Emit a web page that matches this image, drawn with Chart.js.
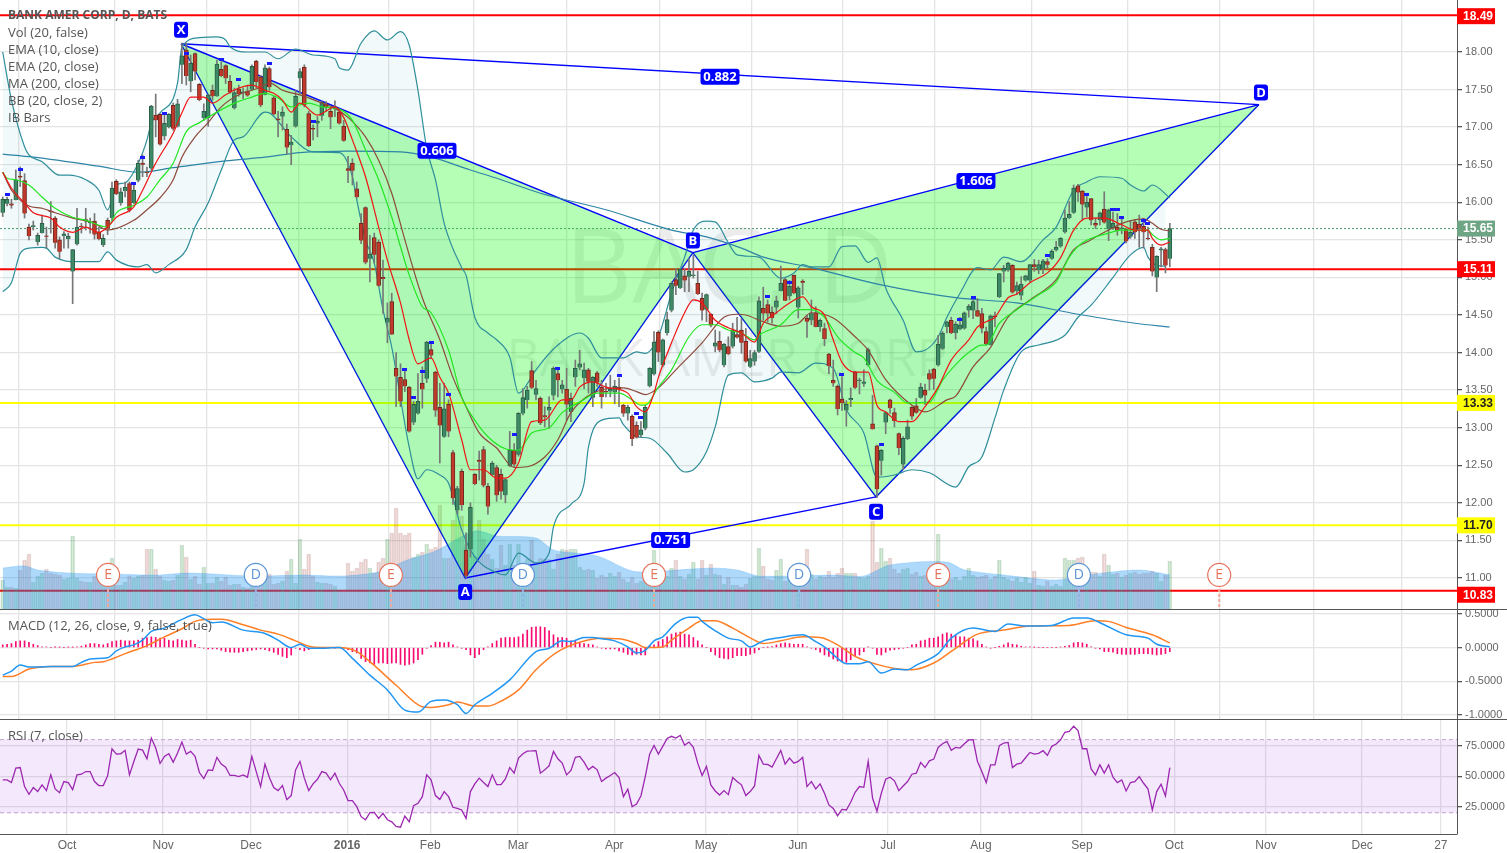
<!DOCTYPE html>
<html>
<head>
<meta charset="utf-8">
<title>BAC, D</title>
<script src="https://cdn.jsdelivr.net/npm/chart.js@4/dist/chart.umd.min.js"></script>
<style>
  html, body { margin: 0; padding: 0; background: #fff; width: 1507px; height: 853px; overflow: hidden; }
  canvas { position: absolute; left: 0; }
  .rule { position: absolute; left: 0; width: 1507px; height: 1px; background: #555; }
</style>
</head>
<body>
<canvas id="priceChart" width="1507" height="609" style="top:0"></canvas>
<canvas id="macdChart" width="1507" height="110" style="top:609px"></canvas>
<canvas id="rsiChart" width="1507" height="134" style="top:719px"></canvas>
<div class="rule" style="top:609px"></div>
<div class="rule" style="top:719px"></div>
<script>
// daily bars, one row per session
const barOpen = [15.86,15.98,15.98,16.03,16.35,16.29,15.67,15.67,15.47,15.59,
  15.55,15.88,15.79,15.50,15.55,15.51,15.08,15.44,15.68,15.77,
  15.72,15.75,15.60,15.43,15.76,15.79,16.28,15.99,16.15,16.25,
  15.99,16.29,16.52,16.40,16.45,17.16,17.17,16.88,17.00,17.29,
  17.01,17.83,18.03,17.61,17.98,17.57,17.12,17.12,17.49,17.41,
  17.77,17.82,17.61,17.25,17.51,17.45,17.48,17.50,17.88,17.67,
  17.43,17.78,17.39,17.11,17.14,16.97,16.76,17.01,17.65,17.80,
  17.18,16.98,17.05,17.15,17.31,17.21,17.24,17.20,17.01,16.45,
  16.52,16.18,15.72,15.93,15.25,15.53,15.47,15.00,14.40,14.68,
  13.79,13.67,13.64,13.54,13.07,13.19,13.59,13.65,14.04,13.74,
  13.27,12.88,13.31,12.67,11.90,12.42,11.37,11.38,12.38,12.57,
  12.71,12.22,12.37,12.47,12.38,12.10,12.49,12.70,12.64,13.19,
  13.37,13.76,13.44,13.39,13.16,13.23,13.43,13.72,13.51,13.51,
  13.21,13.67,13.80,13.66,13.77,13.40,13.73,13.54,13.48,13.48,
  13.47,13.54,13.30,13.19,13.15,13.03,12.90,12.99,13.55,13.71,
  14.27,13.83,14.26,14.56,14.97,14.86,15.02,15.01,15.02,14.92,
  14.72,14.57,14.51,14.08,14.15,13.83,14.08,14.08,14.24,14.30,
  14.15,13.81,13.88,14.01,14.59,14.64,14.54,14.60,14.82,14.97,
  14.75,15.03,14.60,14.95,14.46,14.43,14.53,14.34,14.32,13.98,
  13.63,13.55,13.38,13.23,13.37,13.74,13.62,13.59,13.83,13.05,
  12.76,12.56,13.07,13.37,13.20,12.92,12.51,12.85,13.27,13.29,
  13.40,13.50,13.72,13.78,13.83,14.05,14.34,14.43,14.26,14.31,
  14.32,14.56,14.56,14.56,14.52,14.28,14.10,14.49,14.74,15.08,
  15.10,15.16,14.82,14.76,14.96,14.96,15.17,15.10,15.11,15.21,
  15.25,15.36,15.41,15.60,15.79,15.86,16.22,16.15,15.93,16.05,
  15.72,15.76,15.91,15.64,15.65,15.67,15.64,15.64,15.54,15.74,
  15.71,15.68,15.52,15.40,15.00,15.36,15.37,15.25];
const barHigh = [16.07,16.07,16.04,16.43,16.47,16.38,15.71,15.75,15.59,15.83,
  15.67,16.01,15.81,15.54,15.61,15.59,15.37,15.92,15.72,15.92,
  15.79,15.85,15.67,15.57,15.79,16.27,16.30,16.19,16.27,16.27,
  16.23,16.56,16.63,16.47,17.29,17.44,17.18,17.18,17.18,17.32,
  17.37,18.12,18.12,17.96,17.99,17.58,17.31,17.43,17.56,17.89,
  17.87,17.83,17.69,17.52,17.56,17.52,17.56,17.83,17.89,17.69,
  17.83,17.80,17.41,17.21,17.27,17.04,16.89,17.49,17.78,17.83,
  17.21,17.03,17.14,17.34,17.34,17.27,17.35,17.23,17.09,16.61,
  16.58,16.27,15.85,15.94,15.56,15.59,15.50,15.23,14.66,14.79,
  14.00,13.85,13.77,13.55,13.35,13.72,13.81,14.15,14.15,13.75,
  13.59,13.59,13.37,12.70,12.22,12.45,11.60,12.00,12.39,12.69,
  12.75,12.26,12.55,12.50,12.45,12.32,12.95,12.79,13.20,13.52,
  13.55,13.88,13.63,13.41,13.28,13.41,13.81,13.79,13.63,13.79,
  13.46,13.90,14.03,13.86,13.79,13.68,13.75,13.63,13.59,13.70,
  13.63,13.66,13.31,13.30,13.17,13.08,13.08,13.30,13.80,14.28,
  14.29,14.18,14.54,14.94,15.12,15.12,15.12,15.25,15.30,15.08,
  14.79,14.78,14.52,14.30,14.28,14.12,14.21,14.39,14.47,14.45,
  14.32,14.03,14.03,14.74,14.87,14.70,14.61,14.75,15.15,14.99,
  14.96,15.03,14.88,14.97,14.50,14.70,14.61,14.45,14.39,13.99,
  13.90,13.57,13.68,13.36,13.53,13.75,13.66,13.77,14.06,13.43,
  12.77,12.71,13.21,13.38,13.26,12.93,12.88,13.10,13.28,13.39,
  13.59,13.58,13.77,13.79,14.23,14.28,14.42,14.47,14.41,14.47,
  14.54,14.64,14.70,14.72,14.59,14.34,14.50,14.54,15.05,15.16,
  15.20,15.17,14.94,15.01,15.03,15.17,15.24,15.23,15.24,15.25,
  15.37,15.48,15.53,15.90,16.01,16.23,16.24,16.16,16.12,16.05,
  15.79,15.87,16.14,15.91,15.87,15.85,15.79,15.65,15.76,15.77,
  15.83,15.79,15.67,15.44,15.29,15.40,15.39,15.72];
const barLow = [15.81,15.95,15.92,16.03,16.21,15.79,15.50,15.63,15.43,15.59,
  15.39,15.59,15.39,15.25,15.39,15.39,14.65,15.43,15.59,15.63,
  15.59,15.51,15.50,15.41,15.57,15.76,16.10,15.96,16.07,15.87,
  15.98,16.27,16.34,16.34,16.43,16.87,16.76,16.83,16.99,16.96,
  17.00,17.58,17.56,17.47,17.63,17.35,17.09,17.01,17.36,17.41,
  17.67,17.58,17.45,17.24,17.41,17.38,17.41,17.49,17.52,17.27,
  17.43,17.49,17.16,16.87,16.96,16.64,16.50,17.00,17.44,17.27,
  16.74,16.83,16.87,17.09,17.21,16.98,17.14,17.04,16.81,16.26,
  16.23,16.05,15.45,15.18,14.94,15.19,14.88,14.52,14.13,14.24,
  13.28,13.28,13.48,12.94,13.04,13.18,13.26,13.60,13.92,13.15,
  12.53,12.87,12.88,11.98,11.85,11.90,11.00,11.28,12.24,12.30,
  12.21,11.85,12.37,12.02,12.05,12.00,12.48,12.48,12.62,13.17,
  13.26,13.52,13.37,13.04,13.01,12.99,13.37,13.41,13.46,13.10,
  13.08,13.55,13.77,13.52,13.46,13.28,13.55,13.26,13.41,13.41,
  13.32,13.28,13.15,13.10,12.76,12.86,12.88,12.97,13.54,13.70,
  13.88,13.81,14.23,14.54,14.77,14.85,14.81,14.81,14.99,14.77,
  14.43,14.41,14.34,14.01,14.01,13.81,13.97,14.06,14.19,13.99,
  13.87,13.80,13.83,14.00,14.43,14.41,14.39,14.52,14.82,14.69,
  14.70,14.78,14.46,14.77,14.20,14.37,14.34,14.28,14.09,13.72,
  13.55,13.17,13.23,13.02,13.28,13.52,13.45,13.55,13.82,12.98,
  12.07,12.37,12.92,13.19,13.01,12.64,12.44,12.84,13.11,13.19,
  13.39,13.31,13.50,13.51,13.82,14.04,14.26,14.25,14.18,14.30,
  14.31,14.47,14.45,14.48,14.26,14.10,14.10,14.34,14.73,14.94,
  15.08,14.79,14.77,14.70,14.95,14.94,15.08,15.05,15.05,15.12,
  15.24,15.35,15.40,15.59,15.78,15.85,16.01,15.76,15.81,15.70,
  15.65,15.70,15.72,15.49,15.64,15.56,15.58,15.46,15.52,15.52,
  15.40,15.39,15.50,15.02,14.81,15.14,15.06,15.14];
const barClose = [16.04,16.04,15.96,16.30,16.33,15.85,15.55,15.69,15.56,15.72,
  15.54,15.87,15.46,15.34,15.58,15.55,15.37,15.67,15.67,15.75,
  15.74,15.57,15.51,15.52,15.65,16.19,16.11,16.14,16.20,15.89,
  16.16,16.52,16.50,16.39,17.28,17.09,16.77,17.05,17.17,16.98,
  17.31,17.95,17.68,17.85,17.74,17.36,17.21,17.43,17.41,17.84,
  17.68,17.65,17.46,17.46,17.44,17.47,17.42,17.81,17.60,17.29,
  17.79,17.53,17.17,17.09,17.20,16.73,16.80,17.41,17.74,17.29,
  16.75,16.97,17.08,17.33,17.26,17.13,17.27,17.05,16.82,16.42,
  16.42,16.07,15.49,15.20,15.31,15.30,14.89,14.98,14.46,14.24,
  13.68,13.35,13.55,12.95,13.31,13.35,13.51,14.14,13.96,13.23,
  13.03,13.25,12.95,12.06,12.19,11.97,11.03,11.94,12.25,12.55,
  12.23,11.95,12.53,12.10,12.15,12.31,12.70,12.51,13.19,13.40,
  13.50,13.53,13.52,13.06,13.14,13.27,13.79,13.63,13.57,13.31,
  13.39,13.79,13.85,13.77,13.61,13.67,13.60,13.41,13.47,13.51,
  13.55,13.51,13.19,13.27,12.85,12.87,12.97,13.27,13.79,14.14,
  14.00,14.17,14.44,14.92,14.89,15.11,14.96,15.08,15.03,14.78,
  14.56,14.77,14.36,14.13,14.03,14.11,13.98,14.30,14.20,14.13,
  13.88,13.92,14.00,14.69,14.52,14.52,14.46,14.69,14.92,14.69,
  14.88,14.79,14.86,14.93,14.41,14.52,14.34,14.43,14.18,13.82,
  13.59,13.25,13.33,13.31,13.39,13.53,13.62,13.61,14.04,12.98,
  12.18,12.70,13.20,13.26,13.09,12.73,12.86,13.01,13.15,13.20,
  13.54,13.43,13.64,13.65,14.11,14.26,14.41,14.26,14.38,14.37,
  14.53,14.62,14.68,14.48,14.32,14.11,14.49,14.47,15.05,15.12,
  15.19,14.80,14.89,14.91,15.02,15.17,15.14,15.17,15.22,15.17,
  15.35,15.40,15.52,15.79,15.84,16.19,16.13,15.97,16.00,15.76,
  15.69,15.86,15.73,15.90,15.72,15.62,15.66,15.48,15.60,15.60,
  15.65,15.60,15.51,15.08,15.28,15.38,15.16,15.65];
// volume, in height units of the lower part of the price pane
const volume = [29,22,22,21,39,49,55,27,33,36,40,36,35,34,30,31,73,31,28,27,
  27,33,32,28,46,51,24,24,27,33,31,33,34,60,60,40,33,29,28,29,
  34,64,52,30,33,25,42,26,26,32,28,32,24,25,25,22,21,23,26,30,
  31,35,25,26,28,38,50,26,70,40,55,33,27,26,26,25,23,19,17,46,
  38,41,47,50,41,36,47,51,70,76,101,76,74,76,52,55,57,65,60,62,
  104,51,51,89,101,93,65,76,53,89,70,55,50,41,64,44,65,44,65,45,
  50,69,45,51,50,50,40,55,60,59,60,60,42,39,40,39,
  31,34,32,36,33,37,30,27,32,26,28,30,38,59,30,29,33,41,49,33,
  30,35,47,30,49,34,45,35,34,25,32,24,24,22,25,31,33,61,43,30,
  29,39,50,28,33,30,27,28,60,35,30,33,32,38,32,36,41,36,36,36,
  32,31,33,88,47,61,48,51,40,36,40,41,35,37,33,34,35,30,75,33,
  31,30,32,29,33,41,34,32,33,34,30,33,49,32,30,28,31,27,32,26,
  38,24,23,28,23,25,23,51,49,49,51,52,35,37,37,33,55,44,35,36,
  32,34,36,37,35,36,36,38,36,28,34,48];
const volMaIdx = [0,5,8,15,24,35,43,57,69,78,87,92,99,108,113,122,126,136,144,151,162,168,173,190,197,203,216,220,231,241,250,260,267];
const volMaVal = [41,43,39,36,35,34,36,33,34,33,38,48,58,78,73,71,59,53,38,38,41,39,33,34,33,44,47,39,33,29,35,39,34];

const ema10Idx = [0,2,5,7,11,13,16,19,22,24,26,30,32,35,39,41,43,46,48,51,54,57,60,62,64,66,68,72,76,78,80,83,86,88,91,93,95,98,100,102,105,107,110,113,115,118,121,124,128,130,132,135,138,143,145,147,149,150,153,156,158,160,163,166,169,172,174,177,180,183,185,188,190,192,195,198,200,202,205,208,211,214,217,221,223,225,227,230,232,235,239,242,245,248,252,256,259,262,263,265,267];
const ema10Val = [16.40,16.19,15.99,15.86,15.79,15.67,15.60,15.67,15.60,15.67,15.80,15.94,16.16,16.52,16.92,17.19,17.40,17.40,17.32,17.43,17.52,17.56,17.49,17.45,17.36,17.20,17.32,17.16,17.27,17.13,16.83,16.34,15.67,15.23,14.66,14.17,13.85,13.93,13.67,13.46,12.84,12.44,12.44,12.33,12.33,12.53,13.08,13.10,13.37,13.37,13.54,13.61,13.54,13.46,13.28,13.21,13.46,13.67,14.13,14.53,14.70,14.66,14.43,14.33,14.26,14.14,14.39,14.53,14.66,14.74,14.61,14.50,14.17,13.87,13.74,13.74,13.30,13.21,13.08,13.08,13.28,13.54,13.90,14.17,14.34,14.41,14.47,14.73,14.78,14.93,15.06,15.26,15.63,15.79,15.79,15.70,15.63,15.63,15.52,15.43,15.47];
const ema20Idx = [0,1,3,6,9,12,16,19,24,26,30,33,36,39,42,45,49,53,57,60,63,66,70,73,77,80,83,86,89,93,96,98,102,105,108,111,115,118,121,125,128,132,136,141,144,146,147,150,153,157,160,163,166,169,172,173,178,182,185,188,191,195,197,200,204,207,212,215,219,221,224,225,228,232,237,241,244,247,253,256,262,263,265,267];
const ema20Val = [16.40,16.32,16.30,16.23,16.07,15.92,15.80,15.76,15.67,15.86,15.96,16.07,16.30,16.52,16.94,17.06,17.20,17.32,17.40,17.45,17.39,17.27,17.32,17.27,17.24,17.09,16.70,16.30,15.80,15.03,14.61,14.53,14.03,13.41,13.10,12.88,12.72,12.70,12.93,13.00,13.20,13.34,13.46,13.46,13.37,13.30,13.30,13.54,13.77,14.21,14.37,14.37,14.30,14.26,14.17,14.23,14.37,14.57,14.57,14.47,14.21,14.00,13.93,13.63,13.47,13.33,13.34,13.63,13.90,14.00,14.10,14.10,14.39,14.57,14.77,14.94,15.27,15.46,15.59,15.63,15.63,15.57,15.50,15.52];
const bbMidIdx = [0,2,4,6,9,12,16,21,24,30,33,36,39,41,44,47,50,54,59,61,64,68,73,76,79,83,86,89,92,96,100,103,106,109,113,117,120,124,127,130,135,142,145,147,150,154,160,165,168,170,174,178,182,185,190,195,198,202,208,211,216,218,222,226,230,235,241,245,248,253,257,261,263,265,267];
const bbMidVal = [16.40,16.16,16.03,15.95,15.92,15.86,15.79,15.72,15.63,15.76,15.90,16.06,16.30,16.60,16.87,17.06,17.27,17.43,17.53,17.59,17.49,17.43,17.32,17.25,17.13,16.87,16.56,16.12,15.50,14.73,14.17,13.67,13.28,12.93,12.73,12.47,12.48,12.61,12.84,13.20,13.46,13.53,13.48,13.44,13.53,13.77,14.13,14.47,14.51,14.50,14.41,14.35,14.39,14.53,14.46,14.21,14.03,13.64,13.30,13.21,13.37,13.42,13.81,14.07,14.47,14.70,14.97,15.37,15.47,15.63,15.74,15.78,15.72,15.64,15.62];
const bbUpIdx = [0,2,5,6,9,13,15,19,22,24,26,28,31,33,34,36,40,41,45,49,51,52,56,60,63,67,71,76,77,79,82,85,88,91,93,95,97,99,101,105,106,108,111,113,116,118,119,122,127,132,134,137,142,145,147,150,153,156,158,161,163,166,168,173,178,181,183,185,189,192,195,198,200,202,206,209,211,214,216,219,223,226,229,233,238,241,245,248,251,256,258,261,263,267];
const bbUpVal = [18.00,17.36,16.74,16.63,16.54,16.36,16.36,16.30,16.16,15.90,16.23,16.26,16.52,16.83,17.06,17.19,17.59,18.07,18.19,18.20,18.16,18.07,18.00,18.00,17.91,18.04,17.96,17.91,17.79,17.76,18.12,18.28,18.16,18.27,18.09,17.49,16.72,16.30,15.72,15.13,15.03,14.47,14.26,14.17,13.94,13.46,13.50,13.77,14.10,14.26,14.19,13.93,13.93,14.01,13.99,14.21,14.79,15.27,15.63,15.75,15.74,15.46,15.30,15.27,14.99,15.06,15.17,15.14,15.14,15.41,15.42,15.20,15.26,14.86,14.43,14.01,14.03,14.21,14.47,14.79,15.13,15.10,15.27,15.21,15.50,15.67,16.16,16.27,16.34,16.32,16.23,16.15,16.23,16.06];
const bbLowIdx = [0,2,4,6,9,10,12,17,22,24,26,31,33,35,38,42,44,47,50,53,55,60,61,66,71,77,80,81,83,85,87,89,93,95,97,100,102,105,108,113,115,118,122,125,126,130,133,134,137,141,142,145,148,152,156,158,161,163,166,169,172,176,178,182,186,190,193,197,200,204,208,212,218,221,224,227,229,233,237,243,246,249,254,258,261,262,264,266];
const bbLowVal = [14.81,14.93,15.32,15.39,15.40,15.39,15.27,15.21,15.21,15.34,15.23,15.14,15.17,15.06,15.17,15.37,15.67,15.99,16.43,16.83,16.87,17.20,17.19,16.87,16.67,16.66,16.34,16.03,15.50,15.19,14.57,14.07,12.74,12.32,12.44,12.37,12.26,11.64,11.28,11.07,11.04,11.33,11.20,11.33,11.68,11.98,12.26,12.74,13.10,13.13,13.04,12.88,12.86,12.66,12.41,12.44,12.68,13.01,13.70,13.73,13.61,13.66,13.74,13.73,13.86,13.79,13.24,12.93,12.34,12.37,12.44,12.40,12.21,12.48,12.61,13.13,13.50,14.01,14.10,14.23,14.47,14.63,15.00,15.30,15.40,15.27,15.16,15.15];
const ma200Idx = [0,7,22,31,39,51,60,68,79,91,98,107,114,123,138,153,161,169,174,185,201,218,232,246,259,267];
const ma200Val = [16.64,16.60,16.48,16.40,16.46,16.55,16.60,16.66,16.68,16.67,16.60,16.43,16.30,16.12,15.90,15.63,15.54,15.39,15.27,15.13,14.90,14.73,14.66,14.51,14.39,14.34];

// inside bar flags
const flagIdx = [1,4,30,32,37,42,50,54,61,71,92,94,96,98,102,117,127,141,145,146,175,180,192,201,219,222,239,248,254,255,256,261,262];
const flagVal = [16.11,16.44,16.25,16.60,17.18,17.98,17.90,17.63,17.85,17.08,13.78,13.40,13.75,14.14,13.44,12.91,13.79,13.70,13.19,13.14,14.75,14.93,13.71,12.77,14.44,14.73,15.29,16.11,15.91,15.90,15.80,15.76,15.72];

// harmonic pattern
const patternNames = ['X','A','B','C','D'];
const patternIdx = [40.8,105.8,157.9,199.8,287.4];
const patternVal = [18.11,11.00,15.33,12.08,17.30];
const ratioLabels = ['0.882','0.606','0.751','1.606'];

// horizontal levels and price tags
const levelVal = [18.49,15.65,15.11,13.33,11.70,10.83];
const levelText = ['18.49','15.65','15.11','13.33','11.70','10.83'];

// earnings and dividends
const eventNames = ['E','D','E','D','E','D','E','D','E'];
const eventIdx = [24.1,57.9,88.8,119,149,182.2,214,246.2,278.3];
const eventVal = 11.04;

const macdIdx = [0,2,4,6,8,11,16,18,20,24,26,28,30,32,34,37,41,44,46,48,50,55,60,63,66,68,70,72,77,80,84,88,92,95,98,101,104,106,108,112,116,122,125,128,130,133,135,137,140,143,145,147,149,151,154,157,159,160,163,166,169,171,174,178,183,186,188,191,193,196,198,201,204,207,209,214,217,222,227,230,234,240,245,248,252,257,262,264,267];
const macdVal = [-0.41,-0.35,-0.26,-0.29,-0.29,-0.28,-0.28,-0.22,-0.17,-0.15,-0.05,0.01,0.04,0.11,0.24,0.29,0.42,0.49,0.43,0.37,0.38,0.26,0.21,0.11,0,0.05,-0.01,-0.01,0,-0.16,-0.41,-0.63,-0.93,-0.96,-0.80,-0.78,-0.85,-0.98,-0.85,-0.68,-0.48,-0.06,-0.01,0.10,0.09,0.15,0.15,0.13,0.10,0.01,-0.08,-0.04,0.10,0.16,0.36,0.45,0.45,0.39,0.25,0.14,0.10,0.01,0.10,0.15,0.19,0.09,0.01,-0.16,-0.24,-0.24,-0.21,-0.38,-0.32,-0.33,-0.26,-0.09,0.14,0.29,0.24,0.35,0.32,0.33,0.44,0.44,0.34,0.19,0.14,0.05,0.01];
const signalIdx = [0,2,6,11,16,21,23,28,33,37,41,44,48,50,55,59,63,67,70,73,77,81,84,90,96,98,102,104,108,111,113,118,122,127,132,137,141,145,147,151,153,157,160,163,167,172,174,178,183,187,191,195,200,204,208,213,218,223,229,235,244,250,253,257,263,267];
const signalVal = [-0.43,-0.43,-0.32,-0.28,-0.28,-0.22,-0.21,-0.09,0.03,0.16,0.28,0.39,0.42,0.42,0.34,0.26,0.20,0.10,0.02,0,0,-0.06,-0.21,-0.56,-0.88,-0.89,-0.85,-0.81,-0.87,-0.87,-0.83,-0.63,-0.33,-0.06,0.08,0.14,0.13,0.06,0,0.01,0.11,0.29,0.40,0.40,0.29,0.11,0.06,0.10,0.16,0.15,0.04,-0.13,-0.25,-0.31,-0.33,-0.23,-0.01,0.20,0.26,0.32,0.33,0.40,0.39,0.30,0.19,0.07];
const macdHist = [0.04,0.05,0.06,0.09,0.10,0.10,0.08,0.05,0.03,0.01,
  0.01,0,0.005,0.005,0,0.005,0.005,0.01,0.02,0.04,
  0.06,0.06,0.05,0.04,0.06,0.09,0.10,0.11,0.10,0.10,
  0.10,0.11,0.14,0.15,0.16,0.15,0.14,0.14,0.11,0.10,
  0.12,0.11,0.10,0.11,0.05,0,-0.01,-0.02,-0.02,-0.02,
  -0.04,-0.06,-0.07,-0.07,-0.07,-0.06,-0.05,-0.04,-0.03,-0.02,
  -0.03,-0.05,-0.07,-0.10,-0.13,-0.15,-0.11,-0.01,-0.03,-0.05,
  -0.03,-0.01,0,0,0,0,-0.005,0,-0.01,-0.03,
  -0.06,-0.08,-0.16,-0.21,-0.23,-0.25,-0.23,-0.23,-0.24,-0.23,
  -0.23,-0.25,-0.26,-0.25,-0.23,-0.18,-0.10,-0.01,0.03,0.08,
  0.08,0.07,0.08,0.04,0.01,-0.01,-0.03,-0.11,-0.15,-0.10,
  -0.03,0.01,0.06,0.10,0.14,0.15,0.15,0.15,0.16,0.20,
  0.26,0.30,0.31,0.31,0.30,0.25,0.19,0.15,0.15,0.14,
  0.10,0.10,0.07,0.06,0.05,0.04,0.01,
  -0.01,-0.02,-0.02,-0.02,-0.05,-0.07,-0.10,-0.11,-0.10,-0.11,-0.11,0.03,
  0.04,0.09,0.12,0.16,0.20,0.22,0.23,0.20,0.19,0.15,0.10,0.04,
  0,-0.06,-0.11,-0.15,-0.16,-0.17,-0.15,-0.12,-0.12,-0.12,-0.10,-0.08,-0.03,
  0,0.005,0.015,0.04,0.06,0.07,0.06,0.05,0.05,0.05,0.01,
  -0.01,-0.03,-0.07,-0.11,-0.13,-0.17,-0.20,-0.21,-0.22,-0.18,-0.13,-0.11,-0.06,
  0.01,-0.01,-0.10,-0.11,-0.07,-0.04,-0.03,-0.02,-0.01,
  0,0.04,0.05,0.10,0.11,0.14,0.14,0.16,0.20,0.22,0.20,0.18,0.16,0.16,0.14,0.13,0.10,0.05,0.01,
  -0.01,0,0.02,0.04,0.07,0.05,0.04,0.02,0.01,0.01,0.005,
  0,0,0,0,0,0.01,0.02,0.03,0.07,0.08,0.07,0.05,0.01,
  -0.01,-0.02,-0.06,-0.06,-0.07,-0.09,-0.10,-0.10,-0.10,-0.10,-0.09,-0.09,-0.09,-0.10,-0.11,-0.10,-0.09,-0.06];

const rsiVal = [47.0,47.0,44.8,56.6,57.1,41.5,35.2,40.7,37.4,42.9,
  38.2,51.1,39.6,36.5,45.6,44.8,39.0,51.1,51.6,53.8,
  53.8,45.6,42.3,42.3,50.3,72.5,68.1,68.4,71.2,51.1,
  62.1,72.3,71.4,64.3,81.3,73.1,60.4,66.2,68.4,61.5,
  69.0,78.0,68.1,70.3,66.2,53.0,48.1,55.2,54.7,65.4,
  59.9,57.4,50.6,50.6,49.7,51.1,49.2,66.2,53.8,41.5,
  59.9,48.9,40.7,38.2,42.3,30.8,34.1,55.2,62.1,48.4,
  38.2,43.7,47.5,53.8,52.5,47.0,52.5,44.2,38.7,30.0,
  30.0,25.0,16.8,14.3,20.1,20.3,15.4,19.5,14.3,12.6,
  8.8,8.2,17.3,12.6,25.8,27.8,33.2,51.1,47.0,34.1,
  31.0,37.4,33.2,24.5,23.6,22.3,15.4,37.4,43.7,48.4,
  44.8,41.5,51.1,43.1,43.1,47.8,57.1,52.5,64.8,68.4,
  70.6,70.7,70.9,52.5,55.2,58.5,70.3,64.3,60.7,51.1,
  54.7,65.4,66.2,61.5,55.2,58.0,55.2,45.6,
  48.4,50.6,53.0,48.9,33.2,39.3,25.0,27.2,33.8,49.7,
  68.1,75.3,68.1,74.5,81.0,82.7,81.3,83.5,75.3,78.0,73.6,
  60.7,50.6,58.0,42.9,37.9,34.6,38.2,34.9,48.9,45.6,
  42.9,34.1,37.4,42.0,67.0,59.9,59.6,57.4,64.3,71.2,
  59.9,64.8,60.7,62.1,65.4,41.5,45.6,39.6,43.7,36.0,
  26.4,23.6,17.6,22.8,22.3,28.6,36.8,41.5,40.9,62.1,
  31.9,21.4,36.0,47.5,49.2,46.2,38.2,42.0,45.6,51.6,
  52.5,61.3,57.1,62.6,64.0,73.6,76.6,78.6,71.2,73.6,
  73.1,76.6,79.7,79.9,62.1,53.8,44.8,59.3,59.3,75.0,
  77.2,77.7,57.1,59.9,60.7,65.1,69.5,68.1,68.7,70.9,
  67.0,74.5,76.4,79.9,86.0,86.8,90.9,87.4,72.5,72.5,
  56.0,51.1,59.3,52.5,59.3,49.2,44.8,47.0,37.9,44.8,
  45.6,49.7,44.2,39.6,22.3,37.4,43.4,33.8,57.1];

// axis ticks
const monthIdx = [14.7,36.7,56.8,78.8,97.8,117.9,139.9,160.9,181.9,202.5,223.8,246.9,268,289,311,329];
const monthLabels = ['Oct','Nov','Dec','2016','Feb','Mar','Apr','May','Jun','Jul','Aug','Sep','Oct','Nov','Dec','27'];
const priceTicks = [11,11.5,12,12.5,13,13.5,14,14.5,15,15.5,16,16.5,17,17.5,18];
const macdTicks = [-1,-0.5,0,0.5];
const rsiTicks = [25,50,75];
const rsiBand = [20,80];

const legendLines = ['Vol (20, false)','EMA (10, close)','EMA (20, close)','MA (200, close)','BB (20, close, 2)','IB Bars'];

const FONT = '"Open Sans"';
const AXIS_FONT = '"Liberation Sans"';
const GRID = '#e4e4e4';
const AXIS = '#555';
const TEXT = '#666';
const BLUE = '#0000ff';
const xMin = -0.62;
const xMax = 332.7;
const SMOOTH = { cubicInterpolationMode: 'monotone' };

const zip = (xs, ys) => xs.map((x, i) => ({ x, y: ys[i] }));
const bars = barClose.map((_, i) => i);
const isUp = i => barClose[i] >= barOpen[i];

function line(data, color, order, extra) {
  return Object.assign({ type: 'line', data, borderColor: color, borderWidth: 1.2, pointRadius: 0, tension: 0, order }, extra);
}

function clearPadding(s) {
  s.paddingLeft = 0;
  s.paddingRight = 0;
  s.paddingTop = 0;
  s.paddingBottom = 0;
}

function xScale(isBottom) {
  return {
    type: 'linear',
    min: xMin,
    max: xMax,
    offset: false,
    afterBuildTicks: s => { s.ticks = monthIdx.map(value => ({ value })); },
    afterFit: s => { s.height = isBottom ? 19 : 0; clearPadding(s); },
    grid: { color: GRID, lineWidth: 1.3, drawTicks: false },
    border: { display: isBottom, color: AXIS },
    ticks: {
      display: isBottom,
      autoSkip: false,
      maxRotation: 0,
      padding: 4,
      color: TEXT,
      font: ctx => ({ family: AXIS_FONT, size: 12, weight: monthLabels[ctx.index] === '2016' ? 'bold' : 'normal' }),
      callback: (v, i) => monthLabels[i]
    }
  };
}

function yScale(min, max, ticks, digits) {
  return {
    position: 'right',
    min,
    max,
    afterBuildTicks: s => { s.ticks = ticks.map(value => ({ value })); },
    afterFit: s => { s.width = 50; clearPadding(s); },
    grid: { color: GRID, lineWidth: 1.3, tickColor: AXIS, tickLength: 5 },
    border: { color: AXIS },
    ticks: {
      autoSkip: false,
      padding: 3,
      color: TEXT,
      font: { family: AXIS_FONT, size: 11 },
      callback: v => v.toFixed(digits)
    }
  };
}

function makeChart(id, datasets, scales, plugins) {
  return new Chart(document.getElementById(id), {
    type: 'line',
    data: { datasets },
    options: {
      responsive: false,
      animation: false,
      devicePixelRatio: 1,
      events: [],
      layout: { padding: 0, autoPadding: false },
      plugins: { legend: { display: false }, tooltip: { enabled: false } },
      scales
    },
    plugins: plugins || []
  });
}

function roundBox(ctx, cx, cy, w, h, fill) {
  ctx.fillStyle = fill;
  ctx.beginPath();
  ctx.roundRect(cx - w / 2, cy - h / 2, w, h, 3);
  ctx.fill();
}

const flagPoint = document.createElement('canvas');
flagPoint.width = 5;
flagPoint.height = 3;
const flagCtx = flagPoint.getContext('2d');
flagCtx.fillStyle = '#1a1aff';
flagCtx.fillRect(0, 0, 5, 3);

const levelColor = ['#ff0000','#4e9a6f','#ff0000','#ffff00','#ffff00','#ff0000'];
const tagColor = ['#ff0000','#6ea585','#ff0000','#ffff00','#ffff00','#ff0000'];
const tagText = ['#fff','#fff','#fff','#222','#222','#fff'];
const tagShift = [1,0,0,0,0,4];

const watermark = {
  id: 'watermark',
  beforeDatasetsDraw(chart) {
    const c = chart.ctx;
    c.save();
    c.fillStyle = 'rgba(0,0,0,0.075)';
    c.textAlign = 'center';
    c.textBaseline = 'middle';
    c.font = `104px ${FONT}`;
    c.fillText('BAC, D', 729, 273);
    c.font = `52px ${FONT}`;
    c.fillText('BANK AMER CORP', 727, 361);
    c.restore();
  }
};

const priceLabels = {
  id: 'priceLabels',
  afterDraw(chart) {
    const c = chart.ctx;
    const xs = chart.scales.x;
    const ys = chart.scales.y;
    c.save();
    c.textBaseline = 'middle';

    // study legend
    c.textAlign = 'left';
    c.fillStyle = '#555';
    c.font = `bold 12px ${FONT}`;
    c.fillText('BANK AMER CORP, D, BATS', 8, 16);
    c.font = `13px ${FONT}`;
    legendLines.forEach((t, i) => c.fillText(t, 8, 33.5 + i * 17));

    c.textAlign = 'center';

    // events
    c.font = `14px ${FONT}`;
    eventNames.forEach((t, i) => {
      c.fillStyle = t === 'E' ? '#e5735c' : '#5a93d6';
      c.fillText(t, xs.getPixelForValue(eventIdx[i]), ys.getPixelForValue(eventVal) + 0.5);
    });

    // pattern points
    const ptShift = [-14, 14, -12, 15, -12];
    c.font = `bold 13px ${FONT}`;
    patternNames.forEach((t, i) => {
      const px = xs.getPixelForValue(patternIdx[i]) + (t === 'D' ? 2 : 0);
      const py = ys.getPixelForValue(patternVal[i]) + ptShift[i];
      roundBox(c, px, py, 14, 16, BLUE);
      c.fillStyle = '#fff';
      c.fillText(t, px, py + 0.5);
    });

    // ratios, at the middle of each leg: X-D, X-B, A-C, B-D
    const legs = [[0,4],[0,2],[1,3],[2,4]];
    legs.forEach((leg, i) => {
      const px = (xs.getPixelForValue(patternIdx[leg[0]]) + xs.getPixelForValue(patternIdx[leg[1]])) / 2;
      const py = (ys.getPixelForValue(patternVal[leg[0]]) + ys.getPixelForValue(patternVal[leg[1]])) / 2 + 2.5;
      roundBox(c, px, py, 39, 16, BLUE);
      c.fillStyle = '#fff';
      c.fillText(ratioLabels[i], px, py + 0.5);
    });

    // price tags
    c.font = `bold 12px ${AXIS_FONT}`;
    levelVal.forEach((v, i) => {
      const py = ys.getPixelForValue(v) + tagShift[i];
      c.fillStyle = tagColor[i];
      c.fillRect(1457, py - 8, 38, 16);
      c.fillStyle = tagText[i];
      c.fillText(levelText[i], 1478, py + 0.5);
    });
    c.restore();
  }
};

function paneTitle(text) {
  return {
    id: 'paneTitle',
    afterDraw(chart) {
      const c = chart.ctx;
      c.save();
      c.fillStyle = '#555';
      c.textBaseline = 'middle';
      c.font = `13px ${FONT}`;
      c.fillText(text, 8, 17.5);
      c.restore();
    }
  };
}

const levels = levelVal.map((v, i) =>
  line([{ x: xMin, y: v }, { x: xMax, y: v }], levelColor[i], 100, i === 1
    ? { borderWidth: 1, borderDash: [2, 2] }
    : { borderWidth: 2 }));

const patternPts = zip(patternIdx, patternVal);
const PATTERN_FILL = 'rgba(0,250,0,0.29)';

const eventStems = eventNames.map((t, i) =>
  line([{ x: eventIdx[i], y: 10.92 }, { x: eventIdx[i], y: 10.587 }],
    t === 'E' ? '#f2a897' : '#8fb6e6', 5, { borderWidth: 2, borderDash: [3, 2] }));

const priceDatasets = [
  ...levels,
  // volume with its average on top
  {
    type: 'bar',
    yAxisID: 'yVol',
    data: zip(bars, volume),
    barThickness: 4,
    grouped: false,
    backgroundColor: bars.map(i => isUp(i) ? 'rgba(76,175,80,0.22)' : 'rgba(178,60,50,0.15)'),
    borderColor: bars.map(i => isUp(i) ? 'rgba(40,120,60,0.2)' : 'rgba(130,50,50,0.18)'),
    borderWidth: 1,
    order: 90
  },
  line(zip(volMaIdx, volMaVal), 'rgba(33,150,243,0.2)', 85, {
    yAxisID: 'yVol', fill: 'origin', backgroundColor: 'rgba(33,150,243,0.36)', tension: 0.3
  }),
  // bollinger bands
  line(zip(bbUpIdx, bbUpVal), '#2f8f9b', 30, { ...SMOOTH, fill: '+1', backgroundColor: 'rgba(0,130,150,0.05)' }),
  line(zip(bbLowIdx, bbLowVal), '#2f8f9b', 30, SMOOTH),
  // pattern legs, triangles filled between the outer and the inner edges
  line([patternPts[0], patternPts[2]], BLUE, 60, { fill: '+1', backgroundColor: PATTERN_FILL, borderWidth: 1.4 }),
  line([patternPts[0], patternPts[1], patternPts[2]], BLUE, 60, { borderWidth: 1.4 }),
  line([patternPts[2], patternPts[4]], BLUE, 60, { fill: '+1', backgroundColor: PATTERN_FILL, borderWidth: 1.4 }),
  line([patternPts[2], patternPts[3], patternPts[4]], BLUE, 60, { borderWidth: 1.4 }),
  line([patternPts[0], patternPts[4]], BLUE, 60, { borderWidth: 1.4 }),
  line([patternPts[1], patternPts[3]], BLUE, 60, { borderWidth: 1.4 }),
  line(zip(ma200Idx, ma200Val), '#2f84a8', 50, SMOOTH),
  // candles, wick then body
  {
    type: 'bar',
    data: bars.map(i => ({ x: i, y: [barLow[i], barHigh[i]] })),
    barThickness: 1,
    grouped: false,
    backgroundColor: '#777',
    order: 20
  },
  {
    type: 'bar',
    data: bars.map(i => ({ x: i, y: [barOpen[i], barClose[i]] })),
    barThickness: 4,
    grouped: false,
    minBarLength: 1,
    backgroundColor: bars.map(i => isUp(i) ? '#3f8a66' : '#c0392b'),
    borderColor: bars.map(i => isUp(i) ? '#2a5f46' : '#6e2a20'),
    borderWidth: 1,
    order: 19
  },
  line(zip(bbMidIdx, bbMidVal), '#8d4a3c', 12, SMOOTH),
  line(zip(ema20Idx, ema20Val), '#22e622', 11, SMOOTH),
  line(zip(ema10Idx, ema10Val), '#f01414', 10, SMOOTH),
  line(zip(flagIdx, flagVal), BLUE, 8, { showLine: false, pointRadius: 3, pointStyle: flagPoint }),
  ...eventStems,
  line(zip(eventIdx, eventIdx.map(() => eventVal)), '#fff', 4, {
    showLine: false,
    pointRadius: 11.5,
    pointBackgroundColor: '#fff',
    pointBorderWidth: 1.2,
    pointBorderColor: eventNames.map(t => t === 'E' ? '#e5735c' : '#5a93d6')
  })
];

makeChart('priceChart', priceDatasets, {
  x: xScale(false),
  y: yScale(10.587, 18.692, priceTicks, 2),
  yVol: { display: false, min: 0, max: 609 }
}, [watermark, priceLabels]);

makeChart('macdChart', [
  {
    type: 'bar',
    data: zip(bars, macdHist),
    barThickness: 1,
    grouped: false,
    backgroundColor: '#f80a70',
    order: 10
  },
  line(zip(signalIdx, signalVal), '#ff7f27', 6, { ...SMOOTH, borderWidth: 1.5 }),
  line(zip(macdIdx, macdVal), '#2196f3', 5, { ...SMOOTH, borderWidth: 1.5 })
], {
  x: xScale(false),
  y: yScale(-1.0625, 0.574, macdTicks, 4)
}, [paneTitle('MACD (12, 26, close, 9, false, true)')]);

makeChart('rsiChart', [
  line([{ x: xMin, y: rsiBand[1] }, { x: xMax, y: rsiBand[1] }], '#c4a6cc', 20, {
    borderWidth: 1, borderDash: [4, 3], fill: '+1', backgroundColor: 'rgba(155,50,230,0.11)'
  }),
  line([{ x: xMin, y: rsiBand[0] }, { x: xMax, y: rsiBand[0] }], '#c4a6cc', 20, { borderWidth: 1, borderDash: [4, 3] }),
  line(zip(bars, rsiVal), '#9c27b0', 5, { borderWidth: 1.3 })
], {
  x: xScale(true),
  y: yScale(2.6, 96.9, rsiTicks, 4)
}, [paneTitle('RSI (7, close)')]);
</script>
</body>
</html>
